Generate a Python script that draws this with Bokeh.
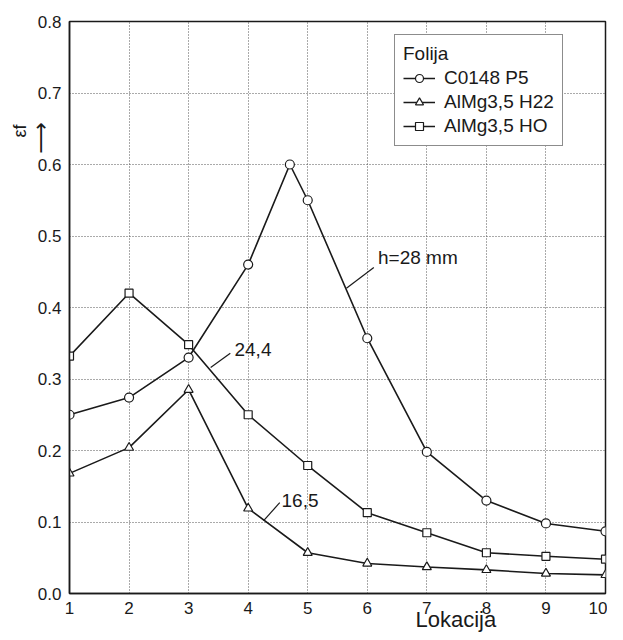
from bokeh.plotting import figure
from bokeh.models import (Label, Arrow, Legend, LegendItem, Title,
                          FixedTicker, Range1d, NumeralTickFormatter)
from bokeh.embed import file_html
from bokeh.resources import INLINE

# ---- data ----
loc_ticks = [1, 2, 3, 4, 5, 6, 7, 8, 9, 10]
y_ticks = [0.0, 0.1, 0.2, 0.3, 0.4, 0.5, 0.6, 0.7, 0.8]

c0148_x = [1, 2, 3, 4, 4.7, 5, 6, 7, 8, 9, 10]
c0148_y = [0.25, 0.274, 0.33, 0.46, 0.60, 0.55, 0.357, 0.198, 0.13, 0.098, 0.087]

h22_x = [1, 2, 3, 4, 5, 6, 7, 8, 9, 10]
h22_y = [0.168, 0.204, 0.285, 0.119, 0.057, 0.042, 0.037, 0.033, 0.028, 0.026]

ho_x = [1, 2, 3, 4, 5, 6, 7, 8, 9, 10]
ho_y = [0.332, 0.42, 0.348, 0.25, 0.179, 0.113, 0.085, 0.057, 0.052, 0.048]

series_names = ["C0148 P5", "AlMg3,5 H22", "AlMg3,5 HO"]
curve_labels = ["h=28 mm", "24,4", "16,5"]
x_title = "Lokacija"
y_title = "εf"

FONT = "Liberation Sans"
INK = "#1a1a1a"

p = figure(width=607, height=632, output_backend="svg", toolbar_location=None,
           x_range=Range1d(1, 10), y_range=Range1d(0, 0.8),
           min_border_left=69, min_border_right=2, min_border_top=21,
           min_border_bottom=39)

p.background_fill_color = "white"
p.border_fill_color = "white"
p.outline_line_color = INK
p.outline_line_width = 1.5

for ax in (p.xaxis, p.yaxis):
    ax.axis_line_color = INK
    ax.axis_line_width = 1.5
    ax.major_tick_out = 0
    ax.major_tick_in = 0
    ax.minor_tick_out = 0
    ax.minor_tick_in = 0
    ax.major_label_text_font = FONT
    ax.major_label_text_font_size = "17px"
    ax.major_label_text_color = INK
    ax.major_label_standoff = 8

p.xaxis.ticker = FixedTicker(ticks=loc_ticks)
p.yaxis.ticker = FixedTicker(ticks=y_ticks)
p.yaxis.formatter = NumeralTickFormatter(format="0.0")

p.grid.grid_line_color = "#555555"
p.grid.grid_line_dash = "1 2"
p.grid.grid_line_width = 1

# ---- series ----
lw = 1.6
r1l = p.line(c0148_x, c0148_y, line_color=INK, line_width=lw)
r1m = p.scatter(c0148_x, c0148_y, marker="circle", size=9, fill_color="white",
                line_color=INK, line_width=1.2)
r2l = p.line(h22_x, h22_y, line_color=INK, line_width=lw)
r2m = p.scatter(h22_x, h22_y, marker="triangle", size=9, fill_color="white",
                line_color=INK, line_width=1.2)
r3l = p.line(ho_x, ho_y, line_color=INK, line_width=lw)
r3m = p.scatter(ho_x, ho_y, marker="square", size=8, fill_color="white",
                line_color=INK, line_width=1.2)

legend = Legend(items=[
    LegendItem(label=series_names[0], renderers=[r1l, r1m]),
    LegendItem(label=series_names[1], renderers=[r2l, r2m]),
    LegendItem(label=series_names[2], renderers=[r3l, r3m]),
], title="Folija", location=(325, 447))
legend.title_text_font = FONT
legend.title_text_font_size = "19px"
legend.title_text_font_style = "normal"
legend.title_text_color = INK
legend.title_standoff = 2
legend.label_text_font = FONT
legend.label_text_font_size = "19px"
legend.label_text_color = INK
legend.label_height = 20
legend.border_line_color = INK
legend.border_line_width = 1.5
legend.background_fill_alpha = 1
legend.glyph_width = 32
legend.glyph_height = 20
legend.spacing = 2
legend.padding = 8
legend.margin = 0
legend.label_standoff = 9
p.add_layout(legend)

# ---- curve annotations with leader lines ----
leaders = [((5.65, 0.427), (6.11, 0.456)),
           ((3.37, 0.316), (3.70, 0.336)),
           ((4.26, 0.102), (4.53, 0.127))]
label_pos = [(6.18, 0.47), (3.77, 0.341), (4.56, 0.130)]
for (s, e), (lx, ly), txt in zip(leaders, label_pos, curve_labels):
    p.add_layout(Arrow(x_start=s[0], y_start=s[1], x_end=e[0], y_end=e[1],
                       end=None, line_color=INK, line_width=1.2))
    p.add_layout(Label(x=lx, y=ly, text=txt, text_font=FONT,
                       text_font_size="19px", text_color=INK,
                       text_baseline="middle", text_align="left"))

# ---- axis titles (as side panels so they are not clipped) ----
p.add_layout(Title(text=x_title, align="left", offset=346, standoff=-24,
                   text_font=FONT, text_font_size="22px",
                   text_font_style="normal", text_color=INK), "below")
p.add_layout(Title(text="⟶", align="left", offset=440, standoff=-36,
                   text_font="DejaVu Sans", text_font_size="22px",
                   text_font_style="normal", text_color=INK), "left")
p.add_layout(Title(text=y_title, align="left", offset=456, standoff=10,
                   text_font=FONT, text_font_size="18px",
                   text_font_style="normal", text_color=INK), "left")

open("out.html", "w").write(file_html(p, INLINE))
